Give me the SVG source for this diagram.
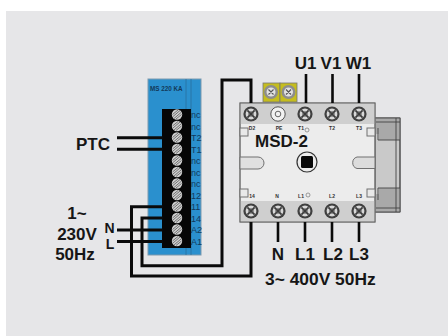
<svg xmlns="http://www.w3.org/2000/svg" width="448" height="336" viewBox="0 0 448 336">
<style>
text{font-family:"Liberation Sans",Arial,sans-serif;font-weight:bold;fill:#161616}
.big{font-size:17px;text-anchor:middle}
.sm{font-size:14px;text-anchor:middle}
.tiny{font-size:5px;text-anchor:middle;fill:#333}
.bl{font-size:9px;font-weight:normal;fill:#12395a}
.w{fill:none;stroke:#0a0a0a;stroke-width:3}
.t{fill:none;stroke:#0a0a0a;stroke-width:2.6}
.part{fill:#e9e9e9;stroke:#707070;stroke-width:1}
</style>
<defs>
<g id="screw"><circle r="5.2" fill="#cfcfcf"/><path d="M-4 2L3 -4M-3 4L4 -2M-4.500 0L1 -4.500M-1 4.500L4.500 0" stroke="#666" stroke-width=".9"/></g>
<g id="term"><circle r="7.600" fill="#404040"/><circle r="5.400" fill="#d8d8d8"/><path d="M-3.600-3.600L3.600 3.600M-3.600 3.600L3.600-3.600" stroke="#3a3a3a" stroke-width="1.700"/><circle r="2.200" fill="none" stroke="#444" stroke-width=".9"/></g>
</defs>
<rect x="0" y="0" width="448" height="336" fill="#fff"/>
<rect x="6" y="11" width="442" height="325" fill="#e6e6e8"/>

<g id="relay">
<rect x="148" y="79" width="53" height="176" fill="#2a90ce" stroke="#7d99ad" stroke-width="1"/>
<path d="M186 79V255M191 79V255" stroke="#286f9f" stroke-width=".8" fill="none"/>
<rect x="162" y="109" width="29" height="139" fill="#060606"/>
<text x="150" y="90.500" font-size="6.300" style="fill:#12395a">MS 220 KA</text>
<use href="#screw" x="177" y="114.500"/><use href="#screw" x="177" y="126"/><use href="#screw" x="177" y="137.500"/><use href="#screw" x="177" y="149"/><use href="#screw" x="177" y="160.500"/><use href="#screw" x="177" y="172"/><use href="#screw" x="177" y="183.500"/><use href="#screw" x="177" y="195"/><use href="#screw" x="177" y="206.500"/><use href="#screw" x="177" y="218"/><use href="#screw" x="177" y="229.500"/><use href="#screw" x="177" y="241"/>
<text class="bl" x="191" y="118">nc</text><text class="bl" x="191" y="129.500">nc</text><text class="bl" x="191" y="141">T2</text><text class="bl" x="191" y="152.500">T1</text><text class="bl" x="191" y="164">nc</text><text class="bl" x="191" y="175.500">nc</text><text class="bl" x="191" y="187">nc</text><text class="bl" x="191" y="198.500">12</text><text class="bl" x="191" y="210">11</text><text class="bl" x="191" y="221.500">14</text><text class="bl" x="191" y="233">A2</text><text class="bl" x="191" y="244.500">A1</text>
</g>

<g id="aux-block">
<rect x="375" y="118" width="25" height="94" fill="#c9c9c9" stroke="#555" stroke-width="1"/>
<path d="M375 122V134H379V140H400V118H375Z" fill="#a9a9a9"/>
<path d="M375 208V194H379V188H400V212H375Z" fill="#a9a9a9"/>
<path d="M375 118H400V212H375M376 122H400M376 208H400M378 128V140H400M378 200V188H400M396 118V212" fill="none" stroke="#444" stroke-width=".9"/>
</g>

<g id="yellow-terminals">
<rect x="263" y="83" width="17" height="19" fill="#c5bd1e" stroke="#777" stroke-width=".8"/>
<rect x="280" y="83" width="17" height="19" fill="#c5bd1e" stroke="#777" stroke-width=".8"/>
<circle cx="271" cy="92" r="7" fill="#8d8d8d"/><circle cx="288.500" cy="92" r="7" fill="#8d8d8d"/>
<circle cx="271" cy="92" r="4.500" fill="#e2e2e2"/><circle cx="288.500" cy="92" r="4.500" fill="#e2e2e2"/>
<path d="M268.500 89.500L273.500 94.500M268.500 94.500L273.500 89.500M286 89.500L291 94.500M286 94.500L291 89.500" stroke="#555" stroke-width="1.100"/>
</g>

<g id="contactor">
<rect x="240" y="103" width="135" height="119" fill="#ececec" stroke="#6f6f6f" stroke-width="1"/>
<rect x="240.500" y="103.500" width="134" height="20.500" fill="#cfcfcf"/>
<rect x="240.500" y="201" width="134" height="20.500" fill="#cfcfcf"/>
<rect x="240" y="103" width="135" height="119" fill="none" stroke="#6f6f6f" stroke-width="1"/>
<use href="#term" x="251" y="114"/><circle cx="278" cy="114" r="7.200" fill="#f2f2f2" stroke="#555" stroke-width="1"/><circle cx="278" cy="114" r="2.800" fill="none" stroke="#666" stroke-width="1"/><use href="#term" x="305" y="114"/><use href="#term" x="332" y="114"/><use href="#term" x="359" y="114"/>
<use href="#term" x="251" y="211"/><use href="#term" x="278" y="211"/><use href="#term" x="305" y="211"/><use href="#term" x="332" y="211"/><use href="#term" x="359" y="211"/>
<text class="tiny" x="252" y="130">D2</text><text class="tiny" x="279" y="130">PE</text><text class="tiny" x="301" y="130">T1</text><text class="tiny" x="332" y="130">T2</text><text class="tiny" x="359" y="130">T3</text>
<text class="tiny" x="252" y="198">14</text><text class="tiny" x="277" y="198">N</text><text class="tiny" x="301" y="198">L1</text><text class="tiny" x="332" y="198">L2</text><text class="tiny" x="359" y="198">L3</text>
<circle cx="307" cy="130" r="2" fill="none" stroke="#777" stroke-width=".7"/><circle cx="308" cy="195" r="2" fill="none" stroke="#777" stroke-width=".7"/>
<rect class="part" x="240" y="128" width="8" height="8"/><rect class="part" x="240" y="189" width="8" height="8"/><rect class="part" x="367" y="128" width="8" height="8"/><rect class="part" x="367" y="189" width="8" height="8"/>
<path class="part" d="M240 157H258A6 6 0 0 1 258 169H240Z" style="fill:#e0e0e0"/>
<path class="part" d="M375 157H357A6 6 0 0 0 357 168.500H375Z" style="fill:#dcdcdc"/>
<text x="255" y="147" font-size="17">MSD-2</text>
<circle cx="307" cy="162" r="10" fill="#ececec" stroke="#333" stroke-width="1.200"/><rect x="301" y="156" width="12" height="12" rx="1.500" fill="#080808"/>
</g>

<g id="connectors">
<path class="w" d="M117 137.700H163M117 149.300H163M117 230H163M117 241.500H163"/>
<path class="w" d="M163 206.700H131.500V276H251V222"/>
<path class="w" d="M163 218H142V265.700H222V80H251V103"/>
<path class="t" d="M306 74V103M332.500 74V103M359 74V103M278 222V242M305 222V242M332 222V242M359 222V242"/>
</g>

<g id="labels">
<text class="big" x="305.500" y="69">U1</text><text class="big" x="331" y="69">V1</text><text class="big" x="358.500" y="69">W1</text>
<text class="big" x="278" y="260">N</text><text class="big" x="305" y="260">L1</text><text class="big" x="333" y="260">L2</text><text class="big" x="359" y="260">L3</text>
<text x="265" y="285" font-size="17.400">3~ 400V 50Hz</text>
<text x="76" y="149.500" font-size="17">PTC</text>
<text class="big" x="77" y="219">1~</text><text class="big" x="77" y="240">230V</text><text class="big" x="75" y="260">50Hz</text>
<text class="sm" x="109.500" y="233">N</text><text class="sm" x="110" y="249">L</text>
</g>
</svg>
